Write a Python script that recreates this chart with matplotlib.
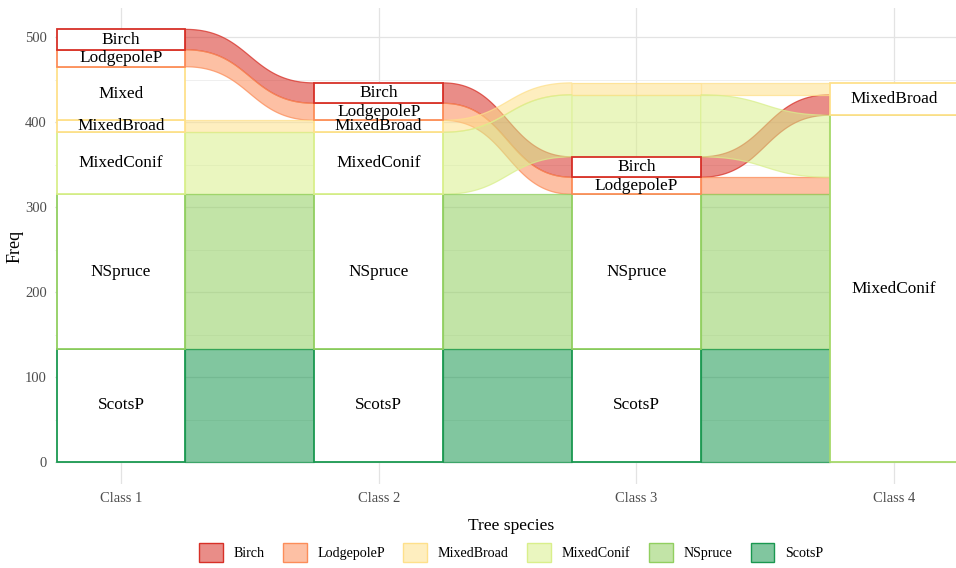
import numpy as np
import matplotlib
matplotlib.use("Agg")
import matplotlib.pyplot as plt
from matplotlib.patches import Rectangle, Polygon, Patch
from matplotlib.colors import to_rgba

plt.rcParams['font.family'] = ['Liberation Serif', 'DejaVu Serif']

# ---------------- data ----------------
classes = ["Class 1", "Class 2", "Class 3", "Class 4"]
species = ["Birch", "LodgepoleP", "Mixed", "MixedBroad", "MixedConif", "NSpruce", "ScotsP"]
freq = [24, 20, 63, 14, 73, 182, 133]
# stratum of each species-group at each class (None = absent, "NA" = hidden stratum)
class1 = ["Birch", "LodgepoleP", "Mixed", "MixedBroad", "MixedConif", "NSpruce", "ScotsP"]
class2 = ["Birch", "LodgepoleP", None, "MixedBroad", "MixedConif", "NSpruce", "ScotsP"]
class3 = ["Birch", "LodgepoleP", None, "NA", "NA", "NSpruce", "ScotsP"]
class4 = ["MixedBroad", "MixedConif", None, "MixedBroad", "MixedConif", "MixedConif", "MixedConif"]
legend_species = ["Birch", "LodgepoleP", "MixedBroad", "MixedConif", "NSpruce", "ScotsP"]
yticks = [0, 100, 200, 300, 400, 500]

# ---------------- styles ----------------
palette = {"Birch": "#D73027", "LodgepoleP": "#FC8D59", "Mixed": "#FEE08B",
           "MixedBroad": "#FEE08B", "MixedConif": "#D9EF8B", "NSpruce": "#91CF60",
           "ScotsP": "#1A9850"}
edge_override = {(3, "MixedConif"): "#A6D96A"}
strata_order = ["NA", "Birch", "LodgepoleP", "Mixed", "MixedBroad", "MixedConif", "NSpruce", "ScotsP"]
ALPHA = 0.55
HALF = 0.25

assign = [class1, class2, class3, class4]
n = len(species)

# compute lode positions per class
pos = []
prev_center = {i: -i for i in range(n)}
for k, col in enumerate(assign):
    present = [i for i in range(n) if col[i] is not None]
    present.sort(key=lambda i: (strata_order.index(col[i]), -prev_center[i]))
    d = {}
    y = 0.0
    for i in reversed(present):
        d[i] = (y, y + freq[i])
        y += freq[i]
    pos.append(d)
    prev_center = {i: (d[i][0] + d[i][1]) / 2 if i in d else prev_center[i] for i in range(n)}

fig = plt.figure(figsize=(9.56, 5.68), dpi=100)
W, H = 956, 568
left_px, right_px, top_px, bot_px = 55, 956, 8, 484
ax = fig.add_axes([left_px / W, 1 - bot_px / H, (right_px - left_px) / W, (bot_px - top_px) / H])
x0 = 1 - (121 - left_px) / 257.67
x1 = 4 + (right_px - 894) / 257.67
ax.set_xlim(x0, x1)
ax.set_ylim(-(bot_px - 462) / 0.85, (462 - top_px) / 0.85)

# grid
ax.set_xticks(range(1, len(classes) + 1))
ax.set_xticklabels(classes)
ax.set_yticks(yticks)
ax.set_yticks([50, 150, 250, 350, 450], minor=True)
ax.grid(True, which='major', color='#E3E3E3', lw=0.9, zorder=0)
ax.grid(True, which='minor', axis='y', color='#EDEDED', lw=0.6, zorder=0)
ax.set_axisbelow(True)
for s in ax.spines.values():
    s.set_visible(False)
ax.tick_params(axis='both', which='both', length=0, labelsize=10.5, labelcolor='#4D4D4D')
ax.tick_params(axis='x', pad=6)
ax.tick_params(axis='y', pad=6)
ax.set_ylabel("Freq", fontsize=13, labelpad=1)

# flows
t = np.linspace(0, 1, 80)
b0 = (1 - t) ** 3
b1 = 3 * (1 - t) ** 2 * t
b2 = 3 * (1 - t) * t ** 2
b3 = t ** 3
for k in range(len(assign) - 1):
    xa = k + 1 + HALF
    xb = k + 2 - HALF
    xm = (xa + xb) / 2
    xs = b0 * xa + (b1 + b2) * xm + b3 * xb
    for i in range(n):
        if i in pos[k] and i in pos[k + 1]:
            lo0, hi0 = pos[k][i]
            lo1, hi1 = pos[k + 1][i]
            top = (b0 + b1) * hi0 + (b2 + b3) * hi1
            bot = (b0 + b1) * lo0 + (b2 + b3) * lo1
            verts = np.concatenate([np.column_stack([xs, top]),
                                    np.column_stack([xs[::-1], bot[::-1]])])
            c = palette[species[i]]
            ax.add_patch(Polygon(verts, closed=True, facecolor=to_rgba(c, ALPHA),
                                 edgecolor=to_rgba(c, 0.75), lw=0.9, zorder=1))

# hidden (NA) strata: lodes remain visible as coloured bands
for k, col in enumerate(assign):
    for i, (lo, hi) in pos[k].items():
        if col[i] == "NA":
            c = palette[species[i]]
            ax.add_patch(Rectangle((k + 1 - HALF, lo), 2 * HALF, hi - lo,
                                   facecolor=to_rgba(c, ALPHA), edgecolor='none', zorder=1))
            ax.hlines([lo, hi], k + 1 - HALF, k + 1 + HALF, colors=[to_rgba(c, 0.75)],
                      lw=0.9, zorder=1)

# strata
for k, col in enumerate(assign):
    strata = {}
    for i, (lo, hi) in pos[k].items():
        s = col[i]
        if s == "NA":
            continue
        if s in strata:
            strata[s] = (min(strata[s][0], lo), max(strata[s][1], hi))
        else:
            strata[s] = (lo, hi)
    for s in sorted(strata, key=lambda s: -strata_order.index(s)):
        lo, hi = strata[s]
        ec = edge_override.get((k, s), palette[s])
        ax.add_patch(Rectangle((k + 1 - HALF, lo), 2 * HALF, hi - lo, facecolor='white',
                               edgecolor=ec, lw=1.3, zorder=2))
        ax.text(k + 1, (lo + hi) / 2, s, ha='center', va='center', fontsize=12.4,
                color='black', zorder=3, clip_on=False)

# legend
handles = [Patch(facecolor=to_rgba(palette[s], ALPHA), edgecolor=palette[s], lw=1.0, label=s)
           for s in legend_species]
leg = fig.legend(handles=handles, loc='center', bbox_to_anchor=(511 / W, 1 - 540 / H),
                 ncol=6, frameon=False, title="Tree species", title_fontsize=12.6,
                 fontsize=10.1, handlelength=1.7, handleheight=1.7, handletextpad=0.75,
                 columnspacing=1.32, labelspacing=0.7, borderpad=0.2)

fig.savefig("out.png", dpi=100)
